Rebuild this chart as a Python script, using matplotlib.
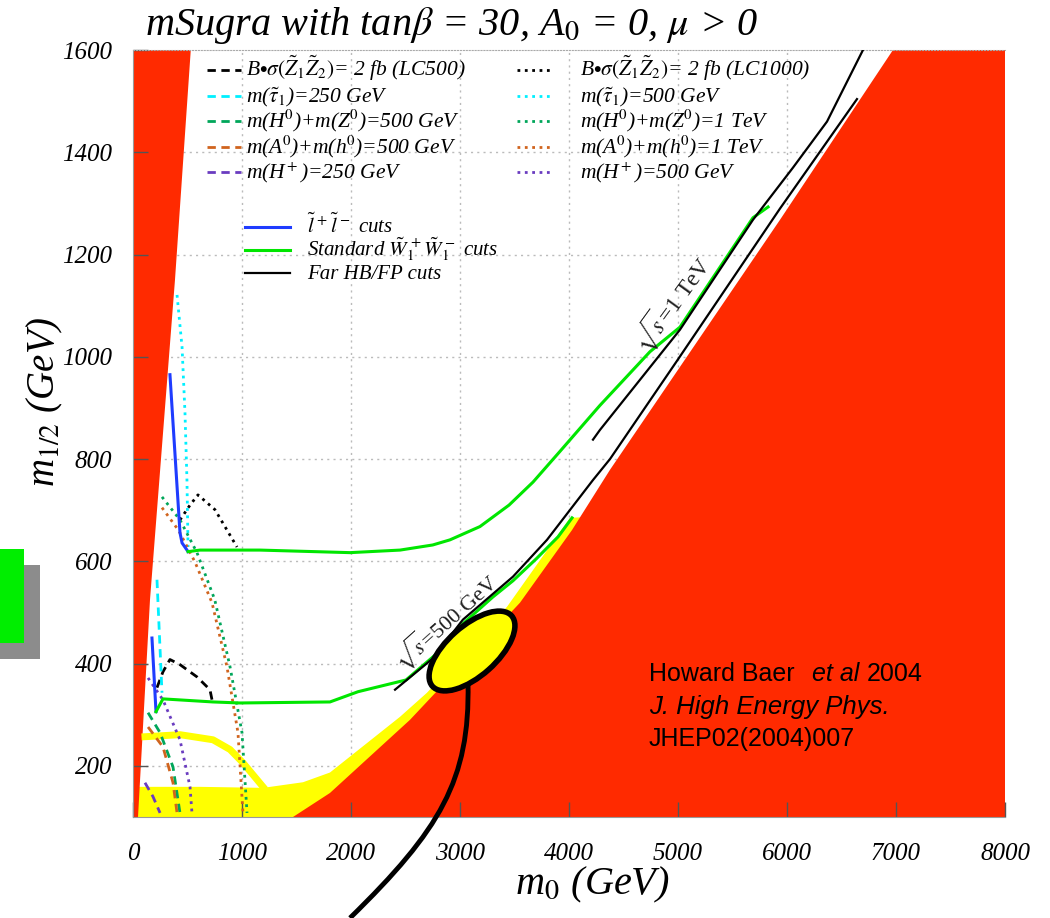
import numpy as np
import matplotlib
matplotlib.use('Agg')
import matplotlib.pyplot as plt
from matplotlib.patches import Ellipse, Rectangle, PathPatch
from matplotlib.path import Path
from matplotlib.lines import Line2D

plt.rcParams['font.family'] = 'serif'
plt.rcParams['font.serif'] = ['Liberation Serif', 'DejaVu Serif']
plt.rcParams['mathtext.fontset'] = 'stix'

# ---- datos (GeV) ----
xticks = [0, 1000, 2000, 3000, 4000, 5000, 6000, 7000, 8000]
yticks = [200, 400, 600, 800, 1000, 1200, 1400, 1600]

# regiones excluidas (rojo)
red_left_x = [0, 0, 530, 385, 156, 46]
red_left_y = [100, 1600, 1600, 1150, 525, 100]
red_right_x = [1468, 1807, 2541, 3550, 4027, 4376, 5936, 6972, 8000, 8000]
red_right_y = [100, 147, 290, 519, 661, 779, 1268, 1600, 1600, 100]

# banda amarilla
yel_x = [46, 615, 1193, 1560, 1807, 2450, 2697, 3431, 4009, 4100, 4100, 46]
yel_y = [159, 159, 157, 168, 187, 296, 343, 511, 685, 686, 100, 100]

# curva amarilla gruesa
ycurve_x = [110, 431, 734, 890, 1009, 1193]
ycurve_y = [257, 261, 251, 232, 206, 159]

# B*sigma = 2 fb
bs500_x = [220, 275, 339, 431, 587, 706, 725]
bs500_y = [353, 384, 408, 398, 374, 349, 329]
bs1000_x = [431, 523, 596, 752, 954]
bs1000_y = [681, 710, 730, 701, 628]

# m(stau1)
tau250_x = [220, 266]
tau250_y = [564, 343]
tau500_x = [404, 450, 477, 495, 505]
tau500_y = [1121, 1019, 890, 759, 628]

# m(H0)+m(Z0)
hz500_x = [138, 248, 367, 431]
hz500_y = [304, 265, 198, 108]
hz1000_x = [266, 431, 587, 750, 890, 1000, 1046]
hz1000_y = [726, 681, 617, 525, 394, 265, 108]

# m(A0)+m(h0)
ah500_x = [138, 275, 367, 404]
ah500_y = [276, 237, 167, 108]
ah1000_x = [266, 420, 570, 725, 862, 963, 1009]
ah1000_y = [705, 660, 598, 519, 394, 265, 108]

# m(H+)
hp250_x = [110, 183, 248]
hp250_y = [167, 140, 108]
hp500_x = [138, 275, 431, 523, 541]
hp500_y = [372, 329, 251, 159, 108]

# cortes slepton (azul)
sl_up_x = [339, 431, 450, 505]
sl_up_y = [965, 656, 636, 619]
sl_lo_x = [174, 211]
sl_lo_y = [450, 306]

# cortes estandar W1W1 (verde)
w500_x = [211, 275, 734, 982, 1807, 2064, 2505, 2817, 3027, 3300, 3486, 3700, 3900, 4028]
w500_y = [306, 331, 325, 323, 325, 345, 368, 425, 478, 530, 562, 605, 648, 685]
w1000_x = [505, 615, 1165, 1991, 2450, 2750, 2908, 3183, 3450, 3670, 3917, 4284, 4743, 5018, 5688, 5826]
w1000_y = [619, 622, 622, 617, 622, 632, 642, 668, 710, 755, 815, 905, 1010, 1058, 1272, 1293]

# Far HB/FP (negro)
fp500_x = [2404, 2750, 3027, 3486, 3798, 4220, 4376, 5000, 5936, 6642]
fp500_y = [349, 410, 486, 570, 642, 759, 800, 995, 1290, 1504]
fp1000_x = [4220, 4284, 5018, 5688, 6055, 6367, 6697]
fp1000_y = [838, 857, 1053, 1268, 1370, 1460, 1600]

# colores
c_red = '#ff2a00'
c_yel = '#ffff00'
c_cyan = '#00f0ff'
c_grn = '#00a65a'
c_org = '#d0641e'
c_pur = '#6a3cc0'
c_blue = '#1f3cff'
c_lime = '#00e600'

W, H = 1050, 918
fig = plt.figure(figsize=(W / 100, H / 100), dpi=100)
ax = fig.add_axes([133 / W, 101 / H, 872 / W, 767 / H])

# rejilla punteada
for xv in xticks[1:-1]:
    ax.axvline(xv, color='#bbbbbb', ls=(0, (1.5, 3)), lw=1, zorder=0)
for yv in yticks[:-1]:
    ax.axhline(yv, color='#bbbbbb', ls=(0, (1.5, 3)), lw=1, zorder=0)

ax.fill(yel_x, yel_y, color=c_yel, lw=0, zorder=1)
ax.fill(red_left_x, red_left_y, color=c_red, lw=0, zorder=1.2)
ax.fill(red_right_x, red_right_y, color=c_red, lw=0, zorder=1.2)

ax.plot(ycurve_x, ycurve_y, color=c_yel, lw=5, zorder=2)

dsh = (0, (3, 2))
ax.plot(bs500_x, bs500_y, color='k', ls=dsh, lw=2, zorder=3)
ax.plot(bs1000_x, bs1000_y, color='k', ls=':', lw=2, zorder=3)
ax.plot(tau250_x, tau250_y, color=c_cyan, ls=dsh, lw=2, zorder=3)
ax.plot(tau500_x, tau500_y, color=c_cyan, ls=':', lw=2, zorder=3)
ax.plot(hz500_x, hz500_y, color=c_grn, ls=dsh, lw=2, zorder=3)
ax.plot(hz1000_x, hz1000_y, color=c_grn, ls=':', lw=2, zorder=3)
ax.plot(ah500_x, ah500_y, color=c_org, ls=dsh, lw=2, zorder=3)
ax.plot(ah1000_x, ah1000_y, color=c_org, ls=':', lw=2, zorder=3)
ax.plot(hp250_x, hp250_y, color=c_pur, ls=dsh, lw=2, zorder=3)
ax.plot(hp500_x, hp500_y, color=c_pur, ls=':', lw=2, zorder=3)

ax.plot(sl_up_x, sl_up_y, color=c_blue, lw=2.2, zorder=4)
ax.plot(sl_lo_x, sl_lo_y, color=c_blue, lw=2.2, zorder=4)
ax.plot(w500_x, w500_y, color=c_lime, lw=2.2, zorder=4)
ax.plot(w1000_x, w1000_y, color=c_lime, lw=2.2, zorder=4)
ax.plot(fp500_x, fp500_y, color='k', lw=1.6, zorder=5)
ax.plot(fp1000_x, fp1000_y, color='k', lw=1.6, zorder=5)

ax.text(2862, 482, r'$\sqrt{s}$=500 GeV', rotation=42,
        fontsize=16, ha='center', va='center', color='#222222', zorder=6)
ax.text(4940, 1105, r'$\sqrt{s}$=1 TeV', rotation=54,
        fontsize=17, ha='center', va='center', color='#222222', zorder=6)

ax.set_xlim(0, 8000)
ax.set_ylim(100, 1600)
ax.set_xticks(xticks)
ax.set_yticks(yticks)
ax.tick_params(direction='in', length=11, width=1, color='#555555',
               labelsize=18, zorder=6)
ax.tick_params(axis='x', pad=19)
ax.tick_params(axis='y', pad=15)
for t in ax.get_xticklabels() + ax.get_yticklabels():
    t.set_fontstyle('italic')
for s in ['left', 'bottom']:
    ax.spines[s].set_color('#999999')
ax.spines['top'].set_color('#aaaaaa')
ax.spines['top'].set_linestyle(':')
ax.spines['right'].set_visible(False)

ax.set_xlabel(r'm$_0$ (GeV)', fontsize=29, style='italic')
ax.xaxis.set_label_coords(0.527, -0.062)
ax.xaxis.label.set_va('top')
ax.set_ylabel(r'm$_{1/2}$ (GeV)', fontsize=28, style='italic')
ax.yaxis.set_label_coords(-0.078, 0.541)

fig.text(145 / W, 1 - 25 / H, r'mSugra with tan$\beta$ = 30, A$_0$ = 0, $\mu$ > 0',
         fontsize=29, style='italic', ha='left', va='center')

# leyendas (posiciones en pixeles de la figura)
def fx(p):
    return (p - 133) / 872


def fy(p):
    return (817 - p) / 767


labels1 = [r'B$\bullet\sigma(\tilde{Z}_1\tilde{Z}_2)$= 2 fb (LC500)',
           r'm($\tilde{\tau}_1$)=250 GeV',
           r'm(H$^0$)+m(Z$^0$)=500 GeV',
           r'm(A$^0$)+m(h$^0$)=500 GeV',
           r'm(H$^+$)=250 GeV']
labels1b = [r'B$\bullet\sigma(\tilde{Z}_1\tilde{Z}_2)$= 2 fb (LC1000)',
            r'm($\tilde{\tau}_1$)=500 GeV',
            r'm(H$^0$)+m(Z$^0$)=1 TeV',
            r'm(A$^0$)+m(h$^0$)=1 TeV',
            r'm(H$^+$)=500 GeV']
cols1 = ['k', c_cyan, c_grn, c_org, c_pur]
rows1 = [70, 96, 121, 147, 172]
for lab_a, lab_b, c, r in zip(labels1, labels1b, cols1, rows1):
    ax.plot([fx(207), fx(241)], [fy(r)] * 2, color=c, ls=dsh, lw=2,
            transform=ax.transAxes, clip_on=False, zorder=7)
    ax.plot([fx(517), fx(551)], [fy(r)] * 2, color=c, ls=':', lw=2,
            transform=ax.transAxes, clip_on=False, zorder=7)
    ax.text(fx(246), fy(r + 6), lab_a, transform=ax.transAxes, fontsize=15.5,
            style='italic', va='baseline', ha='left', zorder=7)
    ax.text(fx(580), fy(r + 6), lab_b, transform=ax.transAxes, fontsize=15.5,
            style='italic', va='baseline', ha='left', zorder=7)

labels2 = [r'$\tilde{l}^{\,+}\tilde{l}^{\,-}$ cuts',
           r'Standard $\tilde{W}_1^{\,+}\tilde{W}_1^{\,-}$ cuts',
           'Far HB/FP cuts']
cols2 = [c_blue, c_lime, 'k']
lws2 = [2.2, 2.2, 1.6]
rows2 = [227, 250, 273]
for lab, c, lw, r in zip(labels2, cols2, lws2, rows2):
    ax.plot([fx(245), fx(290)], [fy(r)] * 2, color=c, lw=lw,
            transform=ax.transAxes, clip_on=False, zorder=7)
    ax.text(fx(307), fy(r + 6), lab, transform=ax.transAxes, fontsize=15,
            style='italic', va='baseline', ha='left', zorder=7)

# referencia
fig.text(649 / W, 1 - 674 / H, 'Howard Baer', family='Liberation Sans',
         fontsize=18, va='center')
fig.text(812 / W, 1 - 674 / H, 'et al', family='Liberation Sans',
         style='italic', fontsize=18, va='center')
fig.text(867 / W, 1 - 674 / H, '2004', family='Liberation Sans',
         fontsize=18, va='center')
fig.text(649 / W, 1 - 707 / H, 'J. High Energy Phys.', family='Liberation Sans',
         style='italic', fontsize=18.5, va='center')
fig.text(649 / W, 1 - 739 / H, 'JHEP02(2004)007', family='Liberation Sans',
         fontsize=18, va='center')

# elipse y linea de senalamiento
ell = Ellipse((4.72, (H - 651) / 100), 1.06, 0.50, angle=41.7,
              facecolor=c_yel, edgecolor='k', lw=4,
              transform=fig.dpi_scale_trans, zorder=10)
fig.add_artist(ell)
pts = [(468, 683), (470, 780), (440, 830), (350, 918)]
path = Path([(x / W, 1 - y / H) for x, y in pts],
            [Path.MOVETO, Path.CURVE4, Path.CURVE4, Path.CURVE4])
fig.add_artist(PathPatch(path, facecolor='none', edgecolor='k', lw=3.5,
                         transform=fig.transFigure, zorder=9))

# caja verde a la izquierda
fig.add_artist(Rectangle((0, 1 - 659 / H), 40 / W, 94 / H,
                         facecolor='#8c8c8c', lw=0, zorder=9))
fig.add_artist(Rectangle((0, 1 - 643 / H), 24 / W, 94 / H,
                         facecolor='#00ee00', lw=0, zorder=10))

fig.savefig('out.png', dpi=100)
